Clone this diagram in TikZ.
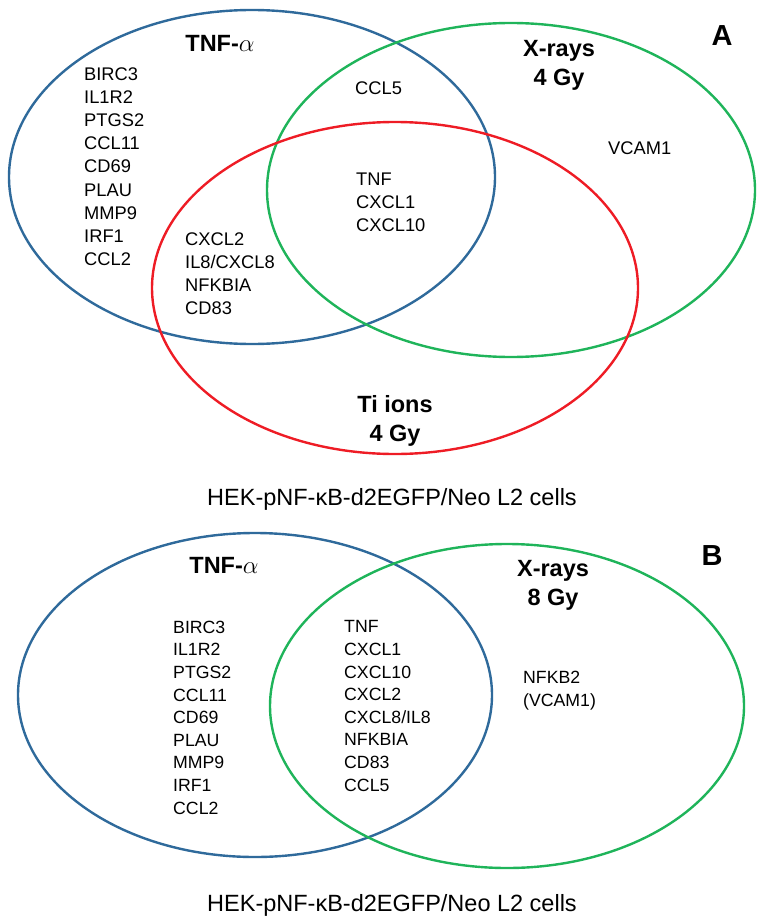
\documentclass[tikz,border=0pt]{standalone}
\usepackage{fontspec}
\setmainfont{Liberation Sans}
\usetikzlibrary{shapes.geometric}
\definecolor{tnfblue}{HTML}{2F6A9B}
\definecolor{xraygreen}{HTML}{1FB45A}
\definecolor{tired}{HTML}{EE1C25}

\begin{document}
\begin{tikzpicture}[
    x=1pt, y=-1pt,
    venn/.style={ellipse, line width=2.4pt, inner sep=0pt, outer sep=0pt},
    setlabel/.style={font=\fontsize{23.5}{28.5}\selectfont\bfseries,
                     align=center, anchor=base, inner sep=0pt},
    genes/.style={font=\fontsize{18.3}{23.1}\selectfont, align=left,
                  anchor=base west, inner sep=0pt},
    genesb/.style={genes, font=\fontsize{17.7}{22.6}\selectfont},
    panel/.style={font=\fontsize{29}{29}\selectfont\bfseries, anchor=base,
                  inner sep=0pt},
    cellline/.style={font=\fontsize{23.5}{28}\selectfont, anchor=base,
                     inner sep=0pt},
]

\useasboundingbox (0,0) rectangle (765,923);

% (multi-line nodes sit on the baseline of their last line)

% ════════════════════════════════════════════════════════════
% PANEL A: TNF-alpha, X-rays 4 Gy, Ti ions 4 Gy
% ════════════════════════════════════════════════════════════
\node[venn, draw=tnfblue, minimum width=486pt, minimum height=334pt] (tnfA) at (252,177) {};
\node[venn, draw=xraygreen, minimum width=488pt, minimum height=334pt] (xrayA) at (511,190) {};
\node[venn, draw=tired, minimum width=486pt, minimum height=332pt] (tiA) at (395,288) {};

\node[setlabel] (tnfAlab) at (220,51.4) {TNF-$\alpha$};
\node[setlabel] (xrayAlab) at (559,85.4) {X-rays\\4 Gy};
\node[setlabel] (tiAlab) at (395,441.4) {Ti ions\\4 Gy};
\node[panel] (panA) at (722,45.4) {A};

\node[genes] (onlytnfA) at (84,265.3)
    {BIRC3\\IL1R2\\PTGS2\\CCL11\\CD69\\PLAU\\MMP9\\IRF1\\CCL2};
\node[genes] (tnfxrayA) at (355,94.5) {CCL5};
\node[genes] (allA) at (356,231.7) {TNF\\CXCL1\\CXCL10};
\node[genes] (tnftiA) at (185,314.7) {CXCL2\\IL8/CXCL8\\NFKBIA\\CD83};
\node[genes] (onlyxrayA) at (608,154.3) {VCAM1};

\node[cellline] (cellsA) at (392,505) {HEK-pNF-κB-d2EGFP/Neo L2 cells};

% ════════════════════════════════════════════════════════════
% PANEL B: TNF-alpha, X-rays 8 Gy
% ════════════════════════════════════════════════════════════
\node[venn, draw=tnfblue, minimum width=474pt, minimum height=324pt] (tnfB) at (255,695) {};
\node[venn, draw=xraygreen, minimum width=474pt, minimum height=324pt] (xrayB) at (507,706) {};

\node[setlabel] (tnfBlab) at (224,573.4) {TNF-$\alpha$};
\node[setlabel] (xrayBlab) at (553,605.4) {X-rays\\8 Gy};
\node[panel] (panB) at (712,565.4) {B};

\node[genesb] (onlytnfB) at (173,814.1)
    {BIRC3\\IL1R2\\PTGS2\\CCL11\\CD69\\PLAU\\MMP9\\IRF1\\CCL2};
\node[genesb] (bothB) at (344,791)
    {TNF\\CXCL1\\CXCL10\\CXCL2\\CXCL8/IL8\\NFKBIA\\CD83\\CCL5};
\node[genesb] (onlyxrayB) at (523,706) {NFKB2\\(VCAM1)};

\node[cellline] (cellsB) at (392,911) {HEK-pNF-κB-d2EGFP/Neo L2 cells};

\end{tikzpicture}
\end{document}
